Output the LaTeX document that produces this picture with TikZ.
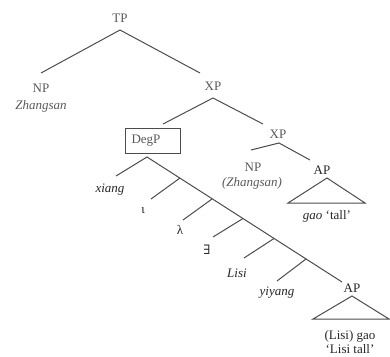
\documentclass[tikz,border=0pt]{standalone}
\usepackage{fontspec}
\setmainfont{Liberation Serif}
\newfontfamily\symfont{DejaVu Serif}
\begin{document}
\begin{tikzpicture}[x=1pt,y=-1pt,
  branch/.style={draw=black!70, line width=1pt},
  lab/.style={inner sep=0pt, font=\fontsize{13}{15}\selectfont, text=black!85},
  soft/.style={lab, text=black!65},
]
\useasboundingbox (0,0) rectangle (390,356);

% --- tree points ---
\coordinate (tpTop) at (120,30);
\coordinate (npEndA) at (41,73);
\coordinate (xpEndA) at (200,73);
\coordinate (xpTopA) at (213,98);
\coordinate (degEnd) at (163,124);
\coordinate (xpEndB) at (263,124);
\coordinate (xpTopB) at (279,143);
\coordinate (npEndB) at (251,150);
\coordinate (apEndA) at (310,160);
\coordinate (triAtop) at (327,178);
\coordinate (triAl) at (288,203);
\coordinate (triAr) at (365,203);
\coordinate (degTop) at (147,157);
\coordinate (xiangEnd) at (116,176);
\coordinate (apEndB) at (342,282);
\coordinate (b1) at (180,178);
\coordinate (b2) at (212,199);
\coordinate (b3) at (243,218.5);
\coordinate (b4) at (274,238.5);
\coordinate (b5) at (306,259);
\coordinate (iotaEnd) at (151,199);
\coordinate (lambdaEnd) at (183,220);
\coordinate (existsEnd) at (213,237);
\coordinate (lisiEnd) at (244,258);
\coordinate (yiyangEnd) at (277,281);
\coordinate (triBtop) at (352,296);
\coordinate (triBl) at (313,319);
\coordinate (triBr) at (389,319);

% --- labels ---
\node[soft] (tp) at (120,18) {TP};
\node[soft] (npA) at (41,88) {NP};
\node[soft] (zsA) at (41,106) {\itshape Zhangsan};
\node[soft] (xpA) at (213,86) {XP};
\node[soft, draw=black!70, line width=1pt, minimum width=55pt, minimum height=25pt]
  (degp) at (152.5,140.5) {DegP\hspace*{13pt}};
\node[soft] (xpB) at (278,134) {XP};
\node[soft] (npB) at (253,167) {NP};
\node[soft] (zsB) at (252,183) {\itshape (Zhangsan)};
\node[lab] (apA) at (322,170) {AP};
\node[lab] (gao) at (327,216) {\itshape gao\/\upshape\ ‘tall’};
\node[lab] (xiang) at (110,190) {\itshape xiang};
\node[lab] (iota) at (143,211) {ι};
\node[lab] (lambda) at (180,230) {λ};
\node[lab] (exists) at (207,250) {\symfont ∃};
\node[lab] (lisi) at (237,273) {\itshape Lisi};
\node[lab] (yiyang) at (277,293) {\itshape yiyang};
\node[lab] (apB) at (352,288) {AP};
\node[lab] (lisigao) at (350,336) {(Lisi) gao};
\node[lab] (lisitall) at (350,349) {‘Lisi tall’};

% --- branches ---
\draw[branch] (npEndA) -- (tpTop) -- (xpEndA);
\draw[branch] (degEnd) -- (xpTopA) -- (xpEndB);
\draw[branch] (npEndB) -- (xpTopB) -- (apEndA);
\draw[branch] (triAtop) -- (triAl) -- (triAr) -- cycle;
\draw[branch] (xiangEnd) -- (degTop) -- (apEndB);
\draw[branch] (b1) -- (iotaEnd);
\draw[branch] (b2) -- (lambdaEnd);
\draw[branch] (b3) -- (existsEnd);
\draw[branch] (b4) -- (lisiEnd);
\draw[branch] (b5) -- (yiyangEnd);
\draw[branch] (triBtop) -- (triBl) -- (triBr) -- cycle;
\end{tikzpicture}
\end{document}
